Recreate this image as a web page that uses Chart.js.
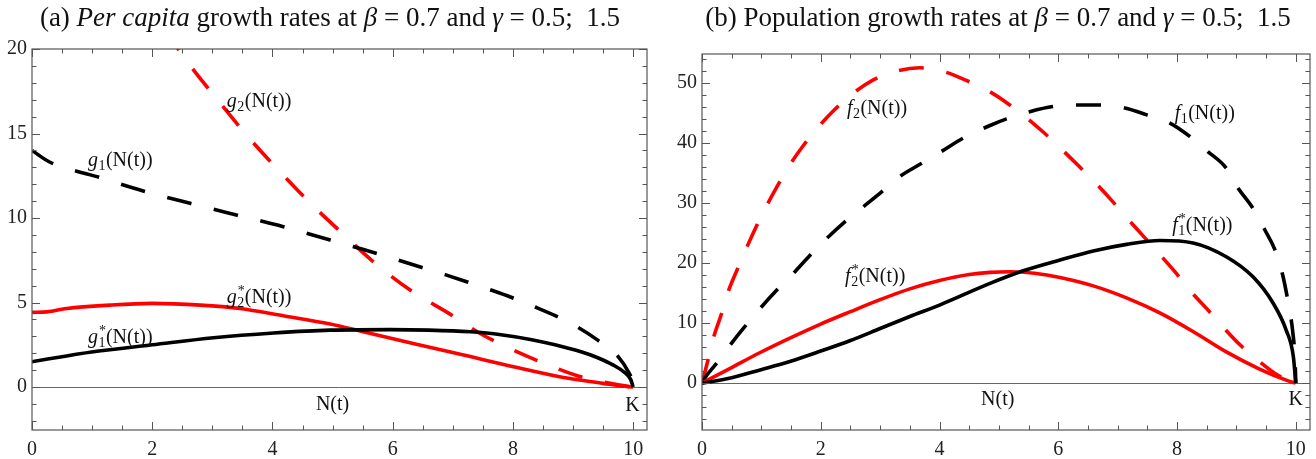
<!DOCTYPE html>
<html>
<head>
<meta charset="utf-8">
<script src="https://cdn.jsdelivr.net/npm/chart.js@4.4.0/dist/chart.umd.min.js"></script>
<style>
  body{margin:0;background:#fff;font-family:"Liberation Serif","DejaVu Serif",serif;}
  #wrap{position:relative;width:1316px;height:459px;overflow:hidden;}
  .box{position:absolute;top:0;height:459px;}
  .ttl{position:absolute;top:2px;font-size:27px;line-height:31px;color:#111;white-space:nowrap;transform:translateX(-50%);}
</style>
</head>
<body>
<div id="wrap">
  <div class="box" style="left:0;width:660px"><canvas id="perCapita"></canvas></div>
  <div class="box" style="left:660px;width:656px"><canvas id="population"></canvas></div>
  <div class="ttl" style="left:330px">(a) <i>Per capita</i> growth rates at <i>β</i> = 0.7 and <i>γ</i> = 0.5;&nbsp; 1.5</div>
  <div class="ttl" style="left:998px">(b) Population growth rates at <i>β</i> = 0.7 and <i>γ</i> = 0.5;&nbsp; 1.5</div>
</div>
<script>
// ---- panel (a): per capita growth rates ----
const g1X = [0,0.3,1.08,1.85,2.63,3.4,4.18,4.96,5.5,6.1,6.46,6.87,7.23,7.62,7.98,8.34,8.73,9.05,9.38,9.75,9.92,9.98,10];
const g1Y = [14.0,13.3,12.45,11.6,10.87,10.18,9.49,8.7,8.15,7.5,7.1,6.65,6.23,5.76,5.3,4.78,4.18,3.6,2.85,1.8,0.9,0.4,0];
const g2X = [1.0,1.5,2.0,2.43,3.13,3.67,4.43,4.74,5.13,5.65,6.29,6.96,7.44,7.96,8.52,9.07,9.5,9.95,10];
const g2Y = [28.5,25.4,22.4,20,16.8,14.5,11.6,10.5,9.2,7.5,5.74,4.3,3.2,2.26,1.4,0.67,0.3,0.02,0];
const g1sX = [0,1.02,2.0,3.02,4.02,4.96,5.96,6.6,7.29,7.8,8.29,8.7,9.12,9.4,9.67,9.85,9.96,10];
const g1sY = [1.5,2.09,2.5,2.92,3.2,3.37,3.4,3.37,3.27,3.1,2.82,2.5,2.1,1.75,1.3,0.88,0.44,0];
const g2sX = [0,0.25,0.58,1.3,2.0,2.8,3.46,4.18,4.96,5.51,6.34,7.18,8.01,8.84,9.5,9.8,10];
const g2sY = [4.42,4.45,4.65,4.85,4.95,4.85,4.65,4.22,3.73,3.27,2.58,1.89,1.2,0.57,0.22,0.06,0];
const aTicksX = [0,2,4,6,8,10];
const aTicksY = [0,5,10,15,20];

// ---- panel (b): population growth rates ----
const f1X = [0,0.08,0.22,0.47,0.72,0.98,1.26,1.54,1.82,2.1,2.41,2.72,3.03,3.33,3.7,4.03,4.4,4.85,5.13,5.52,5.91,6.31,6.73,7.12,7.48,7.88,8.22,8.52,8.83,9.03,9.28,9.48,9.65,9.78,9.88,9.95,9.99,10];
const f1Y = [0,1.3,3.0,6.3,9.4,12.45,15.5,18.3,21.3,24.1,26.9,29.4,31.9,34.4,36.6,38.55,40.8,42.9,44.0,45.2,46.05,46.3,46.3,45.8,44.7,43.3,41.05,38.55,35.8,32.45,29.1,25.5,22.2,18,13,8.5,3.5,0];
const f2X = [0,0.1,0.19,0.33,0.44,0.61,0.74,0.92,1.06,1.28,1.45,1.71,1.92,2.21,2.5,2.87,3.25,3.67,4.06,4.43,4.85,5.13,5.44,5.77,6.04,6.35,6.63,6.91,7.13,7.44,7.71,7.96,8.22,8.52,8.77,9.07,9.35,9.7,10];
const f2Y = [0,3.8,7.45,11.6,15.2,19.3,22.3,26.2,29.0,33.0,35.9,39.6,42.2,45.3,47.9,50.4,51.9,52.5,51.9,50.5,48.5,46.7,44.4,41.6,39.1,36.1,33.3,30.3,27.8,24.4,21.4,18.6,15.4,12.2,9.4,6.3,3.9,1.3,0];
const f1sX = [0,0.5,0.98,1.48,1.99,2.5,3.0,3.5,4.0,4.85,5.41,6.03,6.59,7.15,7.71,8.27,8.83,9.28,9.62,9.84,9.96,10];
const f1sY = [0,0.9,2.2,3.6,5.3,7.1,9.1,11.1,13.0,16.6,18.7,20.5,22.0,23.1,23.75,23.35,21.05,17.7,13.3,8.8,4.4,0];
const f2sX = [0,0.5,0.98,1.48,1.99,2.5,3.0,3.5,4.0,4.5,4.85,5.2,5.6,6.03,6.59,7.15,7.71,8.27,8.83,9.4,9.84,10];
const f2sY = [0,2.6,5.1,7.5,9.8,11.9,13.9,15.7,17.1,18.1,18.45,18.55,18.3,17.6,16.2,14.2,11.7,8.6,5.2,2.3,0.5,0];
const bTicksX = [0,2,4,6,8,10];
const bTicksY = [0,10,20,30,40,50];

const serif = '"Liberation Serif", "DejaVu Serif", serif';

function pts(xs, ys){
  return xs.map((x, i) => ({x: x, y: ys[i]}));
}

function line(xs, ys, color, dashed){
  return {
    data: pts(xs, ys),
    borderColor: color,
    borderWidth: 3.6,
    borderDash: dashed ? [25, 23] : [],
    pointRadius: 0,
    fill: false,
    cubicInterpolationMode: 'monotone'
  };
}

// frame with inward ticks on all four sides, plus the zero line
const framePlugin = {
  id: 'frame',
  beforeDatasetsDraw(chart){
    const ctx = chart.ctx, a = chart.chartArea, y0 = chart.scales.y.getPixelForValue(0);
    ctx.save();
    ctx.strokeStyle = '#666';
    ctx.lineWidth = 1;
    ctx.beginPath();
    ctx.moveTo(a.left, Math.round(y0) + 0.5);
    ctx.lineTo(a.right, Math.round(y0) + 0.5);
    ctx.stroke();
    ctx.restore();
  },
  afterDraw(chart, args, opts){
    const ctx = chart.ctx, a = chart.chartArea;
    const sx = chart.scales.x, sy = chart.scales.y;
    ctx.save();
    ctx.strokeStyle = '#555';
    ctx.lineWidth = 1.2;
    ctx.strokeRect(a.left, a.top, a.right - a.left, a.bottom - a.top);
    ctx.lineWidth = 1;
    ctx.beginPath();
    for (let v = sx.min; v <= sx.max + 1e-9; v += 0.5) {
      const k = Math.round(v * 2) / 2;
      if (k > sx.max) break;
      const px = Math.round(sx.getPixelForValue(k)) + 0.5;
      const len = (k % opts.xMajor === 0) ? 8 : 4.5;
      ctx.moveTo(px, a.bottom); ctx.lineTo(px, a.bottom - len);
      ctx.moveTo(px, a.top); ctx.lineTo(px, a.top + len);
    }
    const start = Math.ceil(sy.min / opts.yMinor) * opts.yMinor;
    for (let v = start; v <= sy.max + 1e-9; v += opts.yMinor) {
      const k = Math.round(v / opts.yMinor) * opts.yMinor;
      const py = Math.round(sy.getPixelForValue(k)) + 0.5;
      const len = (Math.abs(k % opts.yMajor) < 1e-9) ? 8 : 4.5;
      ctx.moveTo(a.left, py); ctx.lineTo(a.left + len, py);
      ctx.moveTo(a.right, py); ctx.lineTo(a.right - len, py);
    }
    ctx.stroke();
    ctx.restore();
  }
};

// curve names like g_2^*(N(t)) placed at data coordinates
const labelPlugin = {
  id: 'curveLabels',
  afterDatasetsDraw(chart, args, opts){
    const ctx = chart.ctx, sx = chart.scales.x, sy = chart.scales.y;
    ctx.save();
    ctx.fillStyle = '#111';
    ctx.textBaseline = 'alphabetic';
    (opts.items || []).forEach(it => {
      let px = sx.getPixelForValue(it.x), py = sy.getPixelForValue(it.y);
      ctx.textAlign = 'left';
      ctx.font = 'italic 20px ' + serif;
      ctx.fillText(it.letter, px, py);
      px += ctx.measureText(it.letter).width + 0.5;
      ctx.font = '14px ' + serif;
      const w = ctx.measureText(it.sub).width;
      ctx.fillText(it.sub, px, py + 4);
      if (it.star) ctx.fillText('*', px + 0.5, py - 8);
      px += w + 0.5;
      ctx.font = '20px ' + serif;
      ctx.fillText('(N(t))', px, py);
    });
    (opts.plain || []).forEach(it => {
      ctx.textAlign = 'center';
      ctx.font = '20px ' + serif;
      ctx.fillText(it.text, sx.getPixelForValue(it.x), sy.getPixelForValue(it.y));
    });
    ctx.restore();
  }
};

function makeChart(id, datasets, cfg){
  return new Chart(document.getElementById(id), {
    type: 'line',
    data: {datasets: datasets},
    plugins: [framePlugin, labelPlugin],
    options: {
      responsive: true,
      maintainAspectRatio: false,
      animation: false,
      events: [],
      layout: {padding: cfg.padding},
      scales: {
        x: {
          type: 'linear', min: 0, max: cfg.xMax,
          afterBuildTicks: s => { s.ticks = cfg.ticksX.map(v => ({value: v})); },
          afterFit: s => { s.height = cfg.xHeight; },
          grid: {display: false, drawTicks: false}, border: {display: false},
          ticks: {font: {family: serif, size: 20}, color: '#222', padding: 8, maxRotation: 0, autoSkip: false}
        },
        y: {
          type: 'linear', min: cfg.yMin, max: cfg.yMax,
          afterBuildTicks: s => { s.ticks = cfg.ticksY.map(v => ({value: v})); },
          afterFit: s => { s.width = cfg.yWidth; },
          grid: {display: false, drawTicks: false}, border: {display: false},
          ticks: {font: {family: serif, size: 20}, color: '#222', padding: 5, autoSkip: false}
        }
      },
      plugins: {
        legend: {display: false},
        tooltip: {enabled: false},
        frame: {xMajor: 2, yMajor: cfg.yMajor, yMinor: cfg.yMinor},
        curveLabels: {items: cfg.items, plain: cfg.plain}
      }
    }
  });
}

makeChart('perCapita', [
  line(g1sX, g1sY, '#000', false),
  line(g2sX, g2sY, '#ff0000', false),
  line(g1X, g1Y, '#000', true),
  line(g2X, g2Y, '#ff0000', true)
], {
  padding: {left: 0, top: 49, right: 13, bottom: 0},
  xMax: 10.23, yMin: -2.54, yMax: 20,
  ticksX: aTicksX, ticksY: aTicksY, yMajor: 5, yMinor: 1,
  xHeight: 29, yWidth: 32,
  items: [
    {letter: 'g', sub: '2', star: false, x: 3.24, y: 16.55},
    {letter: 'g', sub: '1', star: false, x: 0.93, y: 13.1},
    {letter: 'g', sub: '2', star: true, x: 3.24, y: 4.95},
    {letter: 'g', sub: '1', star: true, x: 0.93, y: 2.6}
  ],
  plain: [
    {text: 'N(t)', x: 5.0, y: -1.36},
    {text: 'K', x: 9.99, y: -1.42}
  ]
});

makeChart('population', [
  line(f1sX, f1sY, '#000', false),
  line(f2sX, f2sY, '#ff0000', false),
  line(f1X, f1Y, '#000', true),
  line(f2X, f2Y, '#ff0000', true)
], {
  padding: {left: 0, top: 54, right: 6, bottom: 0},
  xMax: 10.24, yMin: -7.8, yMax: 54.8,
  ticksX: bTicksX, ticksY: bTicksY, yMajor: 10, yMinor: 2,
  xHeight: 29, yWidth: 42,
  items: [
    {letter: 'f', sub: '2', star: false, x: 2.44, y: 44.8},
    {letter: 'f', sub: '1', star: false, x: 7.96, y: 44.0},
    {letter: 'f', sub: '1', star: true, x: 7.92, y: 25.25},
    {letter: 'f', sub: '2', star: true, x: 2.41, y: 16.9}
  ],
  plain: [
    {text: 'N(t)', x: 4.98, y: -3.7},
    {text: 'K', x: 10.0, y: -3.6}
  ]
});
</script>
</body>
</html>
